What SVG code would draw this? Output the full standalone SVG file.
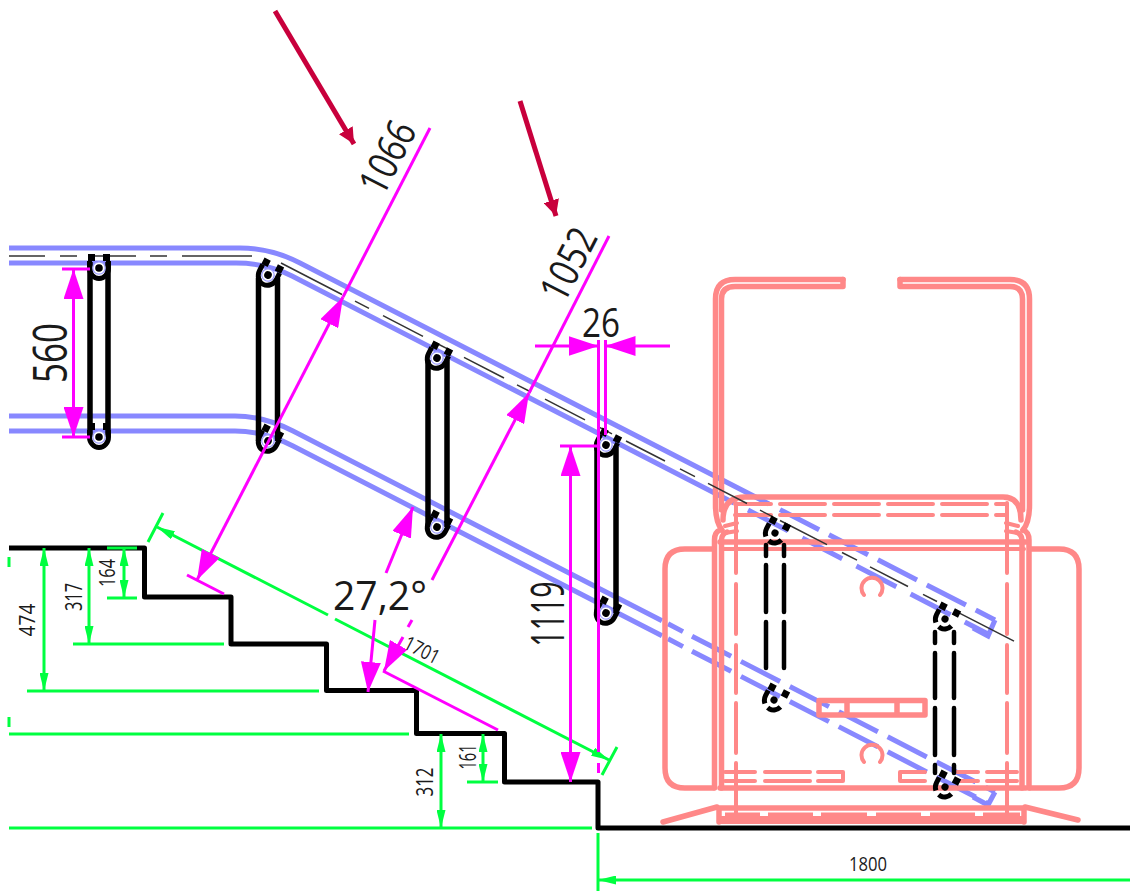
<svg xmlns="http://www.w3.org/2000/svg" width="1130" height="891" viewBox="0 0 1130 891">
<style>
text{font-family:"Open Sans","Liberation Sans",Arial,sans-serif;font-weight:400;fill:#1a1a1a;text-anchor:middle}
.b{fill:none;stroke:#8888ff;stroke-width:5}
.bd{stroke-dasharray:44 11}
.p{fill:none;stroke:#ff8888;stroke-width:5.500;stroke-linecap:round;stroke-linejoin:round}
.p3{stroke-width:4}
.k{fill:none;stroke:#000;stroke-width:5.500}
.kd{stroke-width:4.500;stroke-linecap:round}
.c{fill:none;stroke:#333;stroke-width:1.500}
.m{fill:none;stroke:#ff00ff;stroke-width:3}
.g{fill:none;stroke:#00ff40;stroke-width:3}
.r{fill:none;stroke:#c8003c;stroke-width:5}
</style>
<defs>
<marker id="mh" viewBox="0 0 30 20" refX="30" refY="10" markerWidth="30" markerHeight="20" markerUnits="userSpaceOnUse" orient="auto-start-reverse"><path d="M0,0L30,10L0,20Z" fill="#ff00ff"/></marker>
<marker id="gh" viewBox="0 0 18 9" refX="18" refY="4.500" markerWidth="18" markerHeight="9" markerUnits="userSpaceOnUse" orient="auto-start-reverse"><path d="M0,0L18,4.500L0,9Z" fill="#00ff40"/></marker>
<marker id="rh" viewBox="0 0 16 16" refX="16" refY="8" markerWidth="16" markerHeight="16" markerUnits="userSpaceOnUse" orient="auto"><path d="M0,0L16,8L0,16Z" fill="#c8003c"/></marker>
<g id="clamp">
<path d="M-11,-14h7v7h-7zM4,-14h7v7h-7z" fill="#000"/>
<path d="M-9.500,-7V0A9.500,10.500 0 0 0 9.500,0V-7" fill="none" stroke="#000" stroke-width="5"/>
<circle r="6.200" fill="#fff" stroke="#9a9aff" stroke-width="1.200"/>
<circle r="3.800" fill="#000"/>
</g>
<g id="clampd">
<path d="M-11,-14h7v7h-7zM4,-14h7v7h-7z" fill="#000"/>
<path d="M-9.500,-6V0A9.500,10 0 0 0 9.500,0" fill="none" stroke="#000" stroke-width="5" stroke-dasharray="14 5"/>
<circle r="3.600" fill="#000"/>
</g>
</defs>

<g id="rails">
<path class="b" d="M9,248L240,248Q271,248 300,263L769,504"/>
<path class="b bd" d="M780,509.600L995,620"/>
<path class="b" d="M995,620L988,636L973,628"/>
<path class="b" d="M9,263L236,263Q267,263 292,276L734,503"/>
<path class="b" d="M748,510L988,634" stroke-dasharray="45 16"/>
<path class="b" d="M9,416L235,416Q264,416 293,431L662,620.800M668,623.800L683,631.600"/>
<path class="b bd" d="M692,636.200L995,792"/>
<path class="b" d="M995,792L988,805L973,797"/>
<path class="b" d="M9,431L235,431Q264,431 293,446L662,635.800M668,638.800L683,646.600"/>
<path class="b bd" d="M692,651.200L988,803.400"/>
</g>

<g id="chair">
<path class="p" d="M843,279.500H735Q715.500,279.500 715.500,299V505Q715.500,522 722,530"/>
<path class="p" d="M843,279.500V286.500H735Q721.500,286.500 721.500,299V510"/>
<path class="p" d="M900,279.500H1010Q1029.500,279.500 1029.500,299V505Q1029.500,522 1023,530"/>
<path class="p" d="M900,279.500V286.500H1010Q1022.500,286.500 1022.500,299V510"/>
<path class="p" d="M723,520Q723,497 745,497H1003Q1021,497 1021,520"/>
<path class="p p3" d="M735,504H1007M735,515H1007" stroke-dasharray="45 9" stroke-dashoffset="9" stroke-linecap="butt"/>
<path class="p p3" d="M736,503V573M736,584V634M736,645V693M736,703V753M736,763V815M1007,503V573M1007,584V634M1007,645V693M1007,703V753M1007,763V815"/>
<path class="p p3" d="M725,526L737,523M725,533L737,531M1018,526L1006,523M1018,533L1006,531"/>
<path class="p" d="M720,542H1026M720,788H1026"/>
<path class="p p3" d="M722,549H1024"/>
<path class="p" d="M714.500,788V540Q714.500,532 720,530M721.500,788V540Q721.500,534 727,532M1029,788V540Q1029,532 1023,530M1022,788V540Q1022,534 1016,532"/>
<path class="p" d="M713,549H685Q665,549 665,569V768Q665,788 685,788H713M1030,549H1059Q1079,549 1079,569V768Q1079,788 1059,788H1030"/>
<path class="p p3" d="M864,595A10.500,10.500 0 1 1 880,595M864,762A10.500,10.500 0 1 1 880,762"/>
<path class="p" d="M819,700.500H925V715H819ZM847,700.500V715M897,700.500V715"/>
<path class="p p3" d="M725,772H755M765,772H810M818,772H843V781H818M810,781H765M755,781H725M925,772H900V781H925M957,772H978M987,772H1017M957,781H978M987,781H1017"/>
<path class="p" d="M719,808H1024M719,808V822M1024,808V822"/>
<path class="p" d="M721,820H1022" style="stroke-width:8;stroke-linecap:butt"/>
<path class="p p3" d="M725,814.500H760M768,814.500H813M821,814.500H867M876,814.500H921M930,814.500H975M983,814.500H1020" style="stroke-linecap:butt"/>
<path class="p" d="M663,822L717,807M1025,807L1078,820"/>
</g>

<g id="centerline">
<path class="c" d="M9,256H45M60,256H77M90,256H136M150,256H167M182,256H252M281,263L342,294.500M355,301.200L369,308.400M383,315.600L423,336.300M436,343L450,350.200M464,357.400L504,378M517,384.800L531,392M545,399.200L585,419.900M598,426.600L612,433.800M626,441L665,461M680,468.900L695,476.600M708,483.300L747,503.500M760,510.200L773,516.900M780,520.500L827,544.700M842,552.500L857,560.200M870,566.900L908,586.500M923,594.300L937,601.500M957,611.800L1014,641.200"/>
</g>

<g id="stairs">
<path d="M9,548H144.500V597H231V644H326.500V690.500H416.500V733.500H504.500V782H598V828H1130" fill="none" stroke="#000" stroke-width="5" stroke-linejoin="round"/>
</g>

<g id="slat1"><path class="k" d="M90,262V437M108,262V437"/><use href="#clamp" x="99" y="268"/><use href="#clamp" x="99" y="437"/></g>
<g id="slat2"><path class="k" d="M258.500,278V441M277.500,278V441"/><use href="#clamp" transform="translate(268,275) rotate(27)"/><use href="#clamp" transform="translate(268,441) rotate(27)"/></g>
<g id="slat3"><path class="k" d="M428,360V527M447,360V527"/><use href="#clamp" transform="translate(437,358) rotate(27)"/><use href="#clamp" transform="translate(437,527) rotate(27)"/></g>
<g id="slat4"><path class="k" d="M597,447V613M616,447V613"/><use href="#clamp" transform="translate(606,445) rotate(27)"/><use href="#clamp" transform="translate(606,613) rotate(27)"/></g>
<g id="slat5"><path class="k kd" d="M766,545V556M766,565V612M766,622V668M784,545V556M784,565V612M784,622V668"/><use href="#clampd" transform="translate(775,533) rotate(27)"/><use href="#clampd" transform="translate(774,700) rotate(27)"/></g>
<g id="slat6"><path class="k kd" d="M935,632V643M935,653V698M935,708V755M935,765V773M954,632V643M954,653V698M954,708V755M954,765V773"/><use href="#clampd" transform="translate(945,619) rotate(27)"/><use href="#clampd" transform="translate(945,787) rotate(27)"/></g>

<g id="connectors">
<g id="green-dims">
<path class="g" d="M9,557V567M9,717V727"/>
<path class="g" d="M107,548H137M107,598H137"/>
<path class="g" d="M124,548V598" marker-start="url(#gh)" marker-end="url(#gh)"/>
<path class="g" d="M73,644H224"/>
<path class="g" d="M89,548V644" marker-start="url(#gh)" marker-end="url(#gh)"/>
<path class="g" d="M27,691H319"/>
<path class="g" d="M44,548V691" marker-start="url(#gh)" marker-end="url(#gh)"/>
<path class="g" d="M9,734H409M9,828H592"/>
<path class="g" d="M441,734V828" marker-start="url(#gh)" marker-end="url(#gh)"/>
<path class="g" d="M467,782H498"/>
<path class="g" d="M483,734V782" marker-start="url(#gh)" marker-end="url(#gh)"/>
<path class="g" d="M148,542L163,513M602,775L617,747"/>
<path class="g" d="M157,527L328,615" marker-start="url(#gh)"/>
<path class="g" d="M335,619L609,760" marker-end="url(#gh)"/>
<path class="g" d="M598,833V891"/>
<path class="g" d="M598,880H1130" marker-start="url(#gh)"/>
</g>
<g id="magenta-dims">
<path class="m" d="M62,269H90M62,437H90"/>
<path class="m" d="M73.500,269V437" marker-start="url(#mh)" marker-end="url(#mh)"/>
<path class="m" d="M430,128L343,297"/>
<path class="m" d="M343,297L197,580" marker-start="url(#mh)" marker-end="url(#mh)"/>
<path class="m" d="M187,575L224,594"/>
<path class="m" d="M609,236L529,393"/>
<path class="m" d="M432,580L529,393" marker-end="url(#mh)"/>
<path class="m" d="M412,620L408,627"/>
<path class="m" d="M403,637L384,671" marker-end="url(#mh)"/>
<path class="m" d="M383,671L498,730"/>
<path class="m" d="M386,573L413,507" marker-end="url(#mh)"/>
<path class="m" d="M375,620L368,692" marker-end="url(#mh)"/>
<path class="m" d="M535,346H598.500" marker-end="url(#mh)"/>
<path class="m" d="M670,346H605.500" marker-end="url(#mh)"/>
<path class="m" d="M598.500,340V752M598.500,763V773M605.500,340V435"/>
<path class="m" d="M560,446H598"/>
<path class="m" d="M570.500,446V782" marker-start="url(#mh)" marker-end="url(#mh)"/>
</g>
<g id="callouts">
<path class="r" d="M275,11L354,144" marker-end="url(#rh)"/>
<path class="r" d="M520,101L556,216" marker-end="url(#rh)"/>
</g>
</g>

<g id="labels">
<text transform="translate(50,353) rotate(-90)" y="17" font-size="47" textLength="60" lengthAdjust="spacingAndGlyphs">560</text>
<text transform="translate(387,157) rotate(-63)" y="15" font-size="41" textLength="76" lengthAdjust="spacingAndGlyphs">1066</text>
<text transform="translate(568,264) rotate(-63)" y="15" font-size="41" textLength="76" lengthAdjust="spacingAndGlyphs">1052</text>
<text x="601" y="337" font-size="41" textLength="38" lengthAdjust="spacingAndGlyphs">26</text>
<text x="380" y="610" font-size="41" textLength="94" lengthAdjust="spacingAndGlyphs">27,2°</text>
<text transform="translate(547,614) rotate(-90)" y="16.500" font-size="45" textLength="65" lengthAdjust="spacingAndGlyphs">1119</text>
<text transform="translate(422,650) rotate(27.200)" y="7" font-size="20" textLength="37" lengthAdjust="spacingAndGlyphs">1701</text>
<text transform="translate(107,573) rotate(-90)" y="8" font-size="22" textLength="28" lengthAdjust="spacingAndGlyphs">164</text>
<text transform="translate(73,597) rotate(-90)" y="8.500" font-size="23" textLength="28" lengthAdjust="spacingAndGlyphs">317</text>
<text transform="translate(27,620) rotate(-90)" y="8" font-size="22" textLength="33" lengthAdjust="spacingAndGlyphs">474</text>
<text transform="translate(424,782) rotate(-90)" y="9" font-size="24" textLength="29" lengthAdjust="spacingAndGlyphs">312</text>
<text transform="translate(467,757) rotate(-90)" y="8.500" font-size="23" textLength="25" lengthAdjust="spacingAndGlyphs">161</text>
<text x="868" y="871" font-size="20" textLength="38" lengthAdjust="spacingAndGlyphs">1800</text>
</g>
</svg>
